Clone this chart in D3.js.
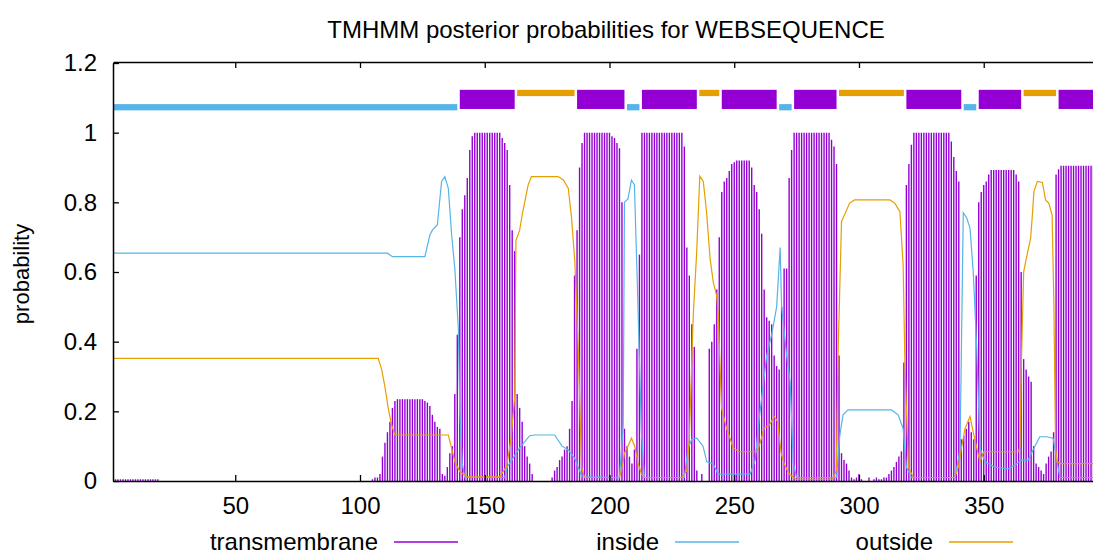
<!DOCTYPE html>
<html>
<head>
<meta charset="utf-8">
<script src="https://cdn.jsdelivr.net/npm/d3@7"></script>
<style>
    body { margin: 0; background: #fff; }
    text { font-family: "Liberation Sans", Arial, Helvetica, sans-serif; }
</style>
</head>
<body>
<div class="container"></div>
<script>
const title = 'TMHMM posterior probabilities for WEBSEQUENCE'
const seqLength = 395

// transmembrane posterior, one value per residue (1..395)
const tmProb = [
    0.005,0.005,0.005,0.005,0.005,0.005,0.005,0.005,0.005,0.005,
    0.005,0.005,0.005,0.005,0.005,0.005,0.005,0.005,0.005,0,
    0,0,0,0,0,0,0,0,0,0, 0,0,0,0,0,0,0,0,0,0,
    0,0,0,0,0,0,0,0,0,0, 0,0,0,0,0,0,0,0,0,0,
    0,0,0,0,0,0,0,0,0,0, 0,0,0,0,0,0,0,0,0,0,
    0,0,0,0,0,0,0,0,0,0, 0,0,0,0,0,0,0,0,0,0,
    0,0,0,0,0.005,0.01,0.01,0.02,0.07,0.11,
    0.14,0.17,0.21,0.23,0.235,0.235,0.235,0.235,0.235,0.235,
    0.235,0.235,0.235,0.235,0.235,0.23,0.225,0.215,0.19,0.17,
    0.155,0.15,0.02,0.015,0.04,0.08,0.10,0.25,0.42,0.70,
    0.78,0.82,0.87,0.95,0.99,1,1,1,1,1,
    1,1,1,1,1,1,0.985,0.97,0.95,0.85,
    0.72,0.66,0.25,0.21,0.17,0.10,0.07,0.05,0.02,0,
    0,0,0,0,0,0,0.01,0.03,0.04,0.06,
    0.07,0.09,0.10,0.15,0.23,0.59,0.72,0.90,0.97,1,
    1,1,1,1,1,1,1,1,1,1,
    0.99,0.985,0.97,0.955,0.80,0.15,0.10,0.07,0.05,0.09,
    0.38,0.65,1,1,1,1,1,1,1,1,
    1,1,1,1,1,1,1,1,1,0.96,
    0.67,0.59,0.45,0.385,0.03,0,0.02,0,0,0.38,
    0.40,0.45,0.55,0.70,0.83,0.86,0.87,0.89,0.91,0.915,
    0.92,0.92,0.92,0.92,0.92,0.92,0.90,0.85,0.83,0.78,
    0.71,0.55,0.47,0.46,0.45,0.36,0.33,0.32,0.50,0.61,
    0.61,0.87,0.95,1,1,1,1,1,1,1,
    1,1,1,1,1,1,1,1,0.98,0.96,
    0.91,0.36,0.08,0.06,0.05,0.03,0.01,0.005,0.01,0.02,
    0.005,0,0,0.01,0,0.005,0.01,0.005,0.005,0.01,
    0.01,0.02,0.03,0.04,0.055,0.07,0.085,0.34,0.85,0.91,
    0.965,1,1,1,1,1,1,1,1,1,
    1,1,1,1,1,1,0.975,0.93,0.89,0.86,
    0.12,0.13,0.15,0.17,0.14,0.12,0.59,0.80,0.83,0.85,
    0.86,0.88,0.893,0.893,0.893,0.893,0.893,0.893,0.893,0.893,
    0.893,0.893,0.88,0.86,0.60,0.35,0.32,0.30,0.285,0.10,
    0.05,0.04,0.03,0.02,0.05,0.07,0.085,0.14,0.88,0.895,
    0.905,0.905,0.905,0.905,0.905,0.905,0.905,0.905,0.905,0.905,
    0.905,0.905,0.905,0.905,0.905
]

// inside / outside posteriors as [residue, probability] vertices
const insideProb = [
    [1,0.654],[111,0.654],[113,0.644],[126,0.644],[128,0.706],[129,0.72],[131,0.735],
    [132.7,0.86],[134,0.874],[135.4,0.84],[136.7,0.71],[138,0.61],[139.4,0.44],[140,0.2],
    [141,0.05],[142,0.01],[158,0.01],[159,0.04],[164,0.095],[168,0.13],[170,0.132],
    [178,0.132],[181,0.10],[183.5,0.089],[186,0.066],[189,0.012],[204,0.01],[205.5,0.16],
    [206,0.80],[207.4,0.81],[208.8,0.864],[210,0.85],[211.5,0.48],[212.8,0.14],[214,0.01],
    [230,0.01],[231.5,0.095],[233,0.12],[235,0.123],[237.5,0.10],[239,0.055],[241.5,0.05],
    [243.5,0.02],[256.4,0.02],[258.4,0.06],[259.7,0.16],[263,0.36],[265,0.42],[267,0.50],
    [268.4,0.67],[269,0.50],[271,0.36],[272.4,0.285],[273.7,0.05],[275,0.01],[291,0.01],
    [292.3,0.13],[293.6,0.19],[295.6,0.204],[313,0.204],[315.7,0.19],[317.7,0.15],[319,0.04],
    [321,0.01],[338.5,0.01],[340.5,0.09],[341.8,0.77],[343.2,0.755],[344.5,0.726],[345.8,0.60],
    [347.2,0.38],[348.5,0.095],[350.5,0.055],[354.5,0.04],[359.7,0.035],[362.5,0.045],
    [365,0.06],[367.8,0.06],[370.5,0.10],[372.5,0.127],[375.2,0.127],[377.8,0.123],
    [379.2,0.066],[380.5,0.01],[395,0.01]
]

const outsideProb = [
    [1,0.352],[107.3,0.352],[108.7,0.32],[110,0.27],[111.3,0.21],[112.7,0.16],[114,0.132],
    [135.4,0.132],[136.7,0.095],[138,0.056],[140,0.027],[142.8,0.012],[156,0.012],[158.8,0.043],
    [160.5,0.12],[162,0.24],[162.5,0.69],[164,0.72],[165,0.764],[166,0.80],[167.4,0.85],
    [168.7,0.874],[179.4,0.874],[181.5,0.864],[183.5,0.84],[184.8,0.755],[186.1,0.63],
    [187.5,0.38],[188.8,0.04],[190,0.01],[204,0.01],[205.5,0.055],[206,0.08],[207.4,0.10],
    [208.8,0.123],[210.1,0.10],[211.5,0.05],[212.8,0.02],[214,0.01],[229,0.01],[231,0.03],
    [232,0.12],[233,0.35],[233.6,0.48],[234.9,0.65],[236.2,0.875],[237.6,0.86],[238.9,0.773],
    [240.3,0.64],[241.6,0.57],[242.9,0.534],[243.6,0.48],[244.9,0.21],[246.9,0.152],
    [249.6,0.095],[252,0.084],[259,0.084],[260,0.10],[262,0.152],[264,0.16],[266.1,0.185],
    [267.4,0.17],[268.8,0.08],[270,0.05],[272,0.02],[274.8,0.005],[289.5,0.005],[290.9,0.03],
    [291.6,0.36],[293,0.745],[294.2,0.764],[296.2,0.797],[298.2,0.807],[312.4,0.807],
    [314.4,0.797],[316.4,0.773],[317.7,0.62],[318.4,0.34],[319.8,0.04],[321.8,0.01],
    [338.5,0.01],[339.8,0.04],[341.2,0.10],[342.5,0.15],[344.5,0.185],[345.8,0.14],
    [347.2,0.095],[348.5,0.055],[350,0.084],[364,0.084],[364.5,0.10],[365.1,0.34],[366,0.60],
    [366.8,0.63],[368.8,0.697],[369.5,0.764],[370.1,0.83],[371.5,0.86],[373.5,0.857],
    [374.8,0.807],[376.1,0.797],[377.4,0.764],[378.1,0.515],[378.8,0.095],[379.4,0.055],
    [380.8,0.05],[395,0.05]
]

// predicted topology segments: [type, start, end]
const segments = [
    ['inside',1,139],['tm',140,162],['outside',163,186],['tm',187,206],['inside',207,212],
    ['tm',213,235],['outside',236,244],['tm',245,267],['inside',268,273],['tm',274,291],
    ['outside',292,318],['tm',319,341],['inside',342,347],['tm',348,365],['outside',366,379],
    ['tm',380,395]
]

const xTicks = [50,100,150,200,250,300,350]
const yTicks = [0,0.2,0.4,0.6,0.8,1,1.2]
const legendItems = ['transmembrane','inside','outside']

const colors = { tm: '#9400d3', inside: '#56b4e9', outside: '#e69f00', transmembrane: '#9400d3' }
// bar band in probability units (low, high)
const bands = { tm: [1.068, 1.123], inside: [1.064, 1.082], outside: [1.105, 1.123] }

const W = 1093, H = 554
const plotLeft = 113, plotTop = 62, plotBottom = 481

const svg = d3.select('.container')
    .append('svg')
    .attr('width', W)
    .attr('height', H)

const x = d3.scaleLinear().domain([1, seqLength]).range([plotLeft, 1096])
const y = d3.scaleLinear().domain([0, 1.2]).range([plotBottom, plotTop + 1])

svg.append('defs').append('clipPath').attr('id', 'plot')
    .append('rect').attr('x', plotLeft).attr('y', plotTop).attr('width', W - plotLeft).attr('height', plotBottom - plotTop)

const plot = svg.append('g').attr('clip-path', 'url(#plot)')

// transmembrane impulses
plot.append('g').selectAll('line')
    .data(tmProb.map((v, i) => ({ r: i + 1, v })).filter(d => d.v > 0))
    .enter()
    .append('line')
    .attr('x1', d => x(d.r))
    .attr('x2', d => x(d.r))
    .attr('y1', y(0))
    .attr('y2', d => y(d.v))
    .attr('stroke', colors.tm)
    .attr('stroke-width', 1.4)

const line = d3.line().x(d => x(d[0])).y(d => y(d[1]))

plot.append('path')
    .datum(insideProb)
    .attr('d', line)
    .attr('fill', 'none')
    .attr('stroke', colors.inside)
    .attr('stroke-width', 1.2)

plot.append('path')
    .datum(outsideProb)
    .attr('d', line)
    .attr('fill', 'none')
    .attr('stroke', colors.outside)
    .attr('stroke-width', 1.2)

// topology bars at the top
plot.append('g').selectAll('rect')
    .data(segments)
    .enter()
    .append('rect')
    .attr('x', d => x(d[1]))
    .attr('width', d => x(d[2]) - x(d[1]))
    .attr('y', d => y(bands[d[0]][1]))
    .attr('height', d => y(bands[d[0]][0]) - y(bands[d[0]][1]))
    .attr('fill', d => colors[d[0]])

// axes: bottom + left with inward ticks, top mirror ticks
const xAxis = svg.append('g')
    .attr('transform', `translate(0,${plotBottom})`)
    .call(d3.axisBottom(x).tickValues(xTicks).tickSizeInner(-6).tickSizeOuter(0).tickPadding(16).tickFormat(d3.format('d')))
xAxis.select('.domain').attr('stroke', '#000').attr('stroke-width', 1.5)
xAxis.selectAll('text').attr('font-size', 24).attr('fill', '#000')

const yAxis = svg.append('g')
    .attr('transform', `translate(${plotLeft},0)`)
    .call(d3.axisLeft(y).tickValues(yTicks).tickSizeInner(-6).tickSizeOuter(0).tickPadding(16).tickFormat(d => d3.format('~g')(d)))
yAxis.select('.domain').attr('stroke', '#000').attr('stroke-width', 1.5)
yAxis.selectAll('text').attr('font-size', 24).attr('fill', '#000')

const topAxis = svg.append('g')
    .attr('transform', `translate(0,${plotTop})`)
    .call(d3.axisTop(x).tickValues(xTicks).tickSizeInner(-6).tickSizeOuter(0).tickFormat(''))
topAxis.select('.domain').attr('stroke', '#000').attr('stroke-width', 1.5)

svg.selectAll('.tick line').attr('stroke', '#000').attr('stroke-width', 1.3)

svg.append('text')
    .attr('x', 606)
    .attr('y', 38)
    .attr('text-anchor', 'middle')
    .attr('font-size', 24)
    .text(title)

svg.append('text')
    .attr('transform', 'translate(29,274) rotate(-90)')
    .attr('text-anchor', 'middle')
    .attr('font-size', 22)
    .text('probability')

// legend
const legend = svg.append('g').selectAll('g')
    .data(legendItems)
    .enter()
    .append('g')
    .attr('transform', (d, i) => `translate(${[378, 659, 933][i]},550)`)

legend.append('text')
    .attr('text-anchor', 'end')
    .attr('font-size', 24)
    .text(d => d)

legend.append('line')
    .attr('x1', 16)
    .attr('x2', 80)
    .attr('y1', -8)
    .attr('y2', -8)
    .attr('stroke', d => colors[d])
    .attr('stroke-width', 1.5)
</script>
</body>
</html>
